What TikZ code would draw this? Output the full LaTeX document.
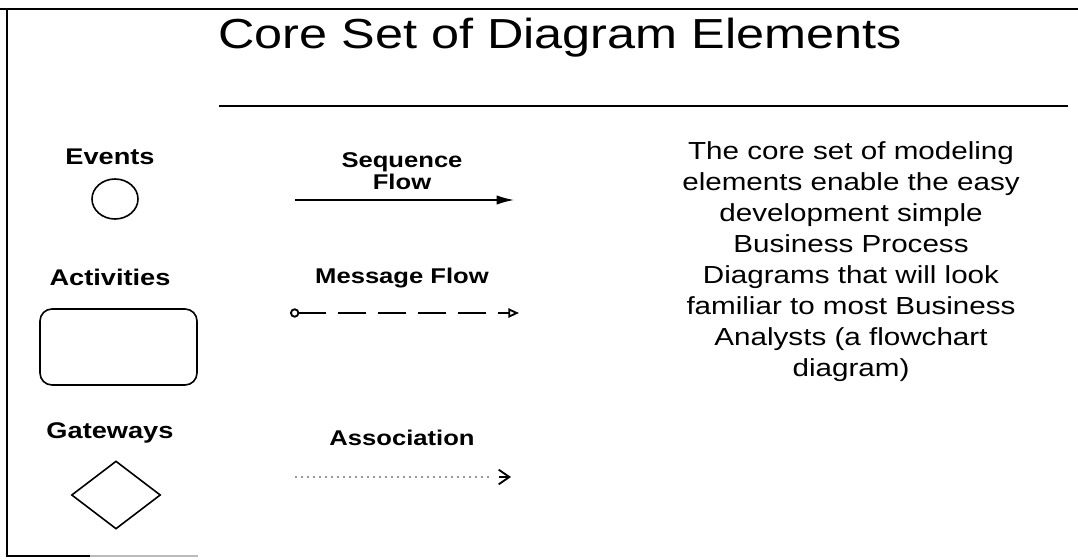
\documentclass[tikz,border=0pt]{standalone}
\usepackage{fontspec}
\setmainfont{Liberation Sans}[FakeStretch=1.2]
\usepackage{tikz}
\usetikzlibrary{positioning, shapes.geometric, arrows.meta, calc}
\usepackage{xcolor}
\definecolor{frgray}{HTML}{BBBBBB}
\definecolor{asgray}{HTML}{999999}

\begin{document}
\begin{tikzpicture}[x=0.75pt, y=-0.75pt,
    lbl/.style={font=\fontsize{17}{19}\selectfont\bfseries, align=center},
    shp/.style={draw=black, line width=1.2pt, inner sep=0pt}]
        \useasboundingbox (0,0) rectangle (1078,560);
        % frame
        \draw[line width=1.1pt] (0,9) -- (1078,9);
        \draw[line width=1.1pt] (7,9) -- (7,556) -- (90,556);
        \draw[frgray, line width=1.1pt] (90,556) -- (198,556);
        % title and rule
        \node[font=\fontsize{31.5}{35}\selectfont] (title) at (560,38) {Core Set of Diagram Elements};
        \draw[line width=0.8pt] (219,106) -- (1068,106);
        % left column
        \node[lbl] (ev) at (110,157) {Events};
        \node[shp, ellipse, minimum width=34.5pt, minimum height=30pt] (evs) at (115,199) {};
        \node[lbl] (ac) at (110,277) {Activities};
        \node[shp, rectangle, rounded corners=9pt, minimum width=117.75pt, minimum height=57pt] (acs) at (118.5,347) {};
        \node[lbl] (gw) at (110,433) {Gateways};
        \node[shp, diamond, minimum width=66.75pt, minimum height=51pt] (gws) at (116,495) {};
        % flows
        \node[lbl, font=\fontsize{16}{17}\selectfont\bfseries] (sq) at (402,171) {Sequence\\Flow};
        \coordinate (sqA) at (295,200);
        \coordinate (sqB) at (514,200);
        \draw[line width=1.1pt, -{Latex[length=13pt, width=7pt]}] (sqA) -- (sqB);
        \node[lbl, font=\fontsize{16}{18}\selectfont\bfseries] (mf) at (402,278) {Message Flow};
        \coordinate (mfA) at (290,313);
        \coordinate (mfB) at (519,313);
        \draw[line width=1.4pt, dash pattern=on 21pt off 9pt,
              {Circle[open, length=7pt, width=7pt]}-{Triangle[open, length=8pt, width=7pt]}] (mfA) -- (mfB);
        \node[lbl, font=\fontsize{16}{18}\selectfont\bfseries] (as) at (402,438) {Association};
        \coordinate (asA) at (295,477);
        \coordinate (asB) at (511,477);
        \draw[asgray, line width=0.9pt, dash pattern=on 1.5pt off 3pt] (asA) -- ($(asB)+(-18,0)$);
        \draw[line width=1.4pt, -{Straight Barb[length=8pt, width=11pt]}] ($(asB)+(-12,0)$) -- (asB);
        % description
        \node[font=\fontsize{18.5}{23.25}\selectfont, align=center] (desc) at (851,262)
          {The core set of modeling\\elements enable the easy\\development simple\\Business Process\\Diagrams that will look\\familiar to most Business\\Analysts (a flowchart\\diagram)};
      \end{tikzpicture}
\end{document}
